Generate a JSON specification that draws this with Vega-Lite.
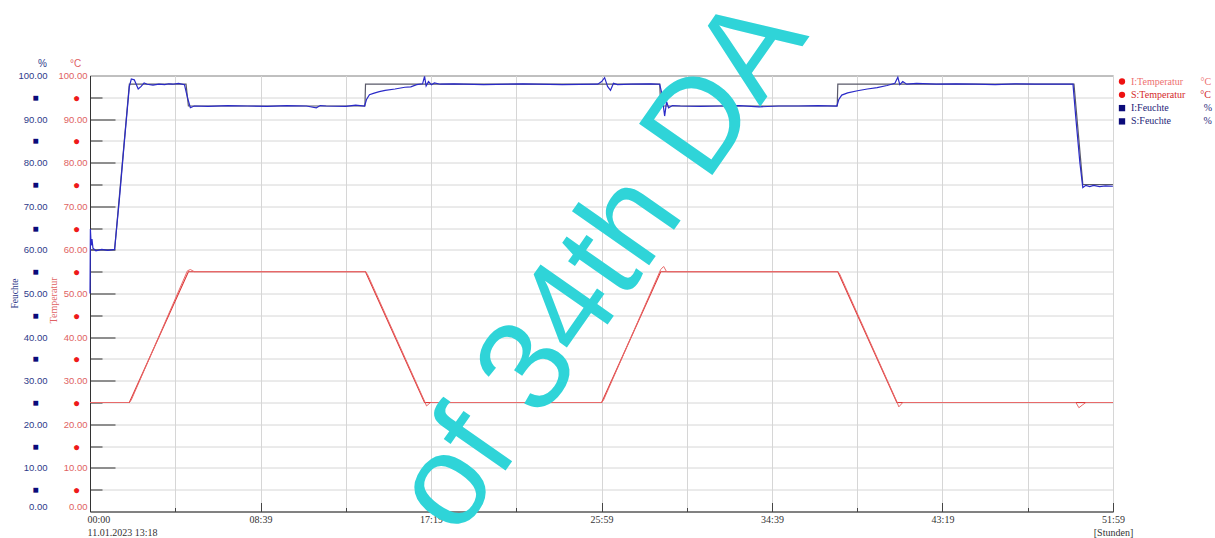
{
  "$schema": "https://vega.github.io/schema/vega-lite/v6.json",
  "width": 1023,
  "height": 436,
  "autosize": "none",
  "padding": {"left": 90, "top": 75.5, "right": 102, "bottom": 26.5},
  "background": "white",
  "config": {"view": {"stroke": "#555555", "strokeWidth": 1}},
  "datasets": {
    "series": [
      {"s": "S:Temperatur", "t": 0, "v": 25}, {"s": "S:Temperatur", "t": 2, "v": 25}, {"s": "S:Temperatur", "t": 5, "v": 55}, {"s": "S:Temperatur", "t": 14, "v": 55}, {"s": "S:Temperatur", "t": 17, "v": 25}, {"s": "S:Temperatur", "t": 26, "v": 25}, {"s": "S:Temperatur", "t": 29, "v": 55}, {"s": "S:Temperatur", "t": 38, "v": 55}, {"s": "S:Temperatur", "t": 41, "v": 25}, {"s": "S:Temperatur", "t": 51.98, "v": 25},
      {"s": "I:Temperatur", "t": 0, "v": 25}, {"s": "I:Temperatur", "t": 2.0, "v": 25}, {"s": "I:Temperatur", "t": 2.1, "v": 25.6}, {"s": "I:Temperatur", "t": 4.95, "v": 55.2}, {"s": "I:Temperatur", "t": 5.1, "v": 55.5}, {"s": "I:Temperatur", "t": 5.3, "v": 55}, {"s": "I:Temperatur", "t": 14, "v": 55}, {"s": "I:Temperatur", "t": 14.1, "v": 54.4}, {"s": "I:Temperatur", "t": 17.0, "v": 25.3}, {"s": "I:Temperatur", "t": 17.1, "v": 24.2}, {"s": "I:Temperatur", "t": 17.3, "v": 25}, {"s": "I:Temperatur", "t": 26, "v": 25}, {"s": "I:Temperatur", "t": 26.1, "v": 25.6}, {"s": "I:Temperatur", "t": 29.0, "v": 55.5}, {"s": "I:Temperatur", "t": 29.15, "v": 56.2}, {"s": "I:Temperatur", "t": 29.3, "v": 55}, {"s": "I:Temperatur", "t": 38, "v": 55}, {"s": "I:Temperatur", "t": 38.1, "v": 54.4}, {"s": "I:Temperatur", "t": 41.0, "v": 25.2}, {"s": "I:Temperatur", "t": 41.1, "v": 24}, {"s": "I:Temperatur", "t": 41.3, "v": 25}, {"s": "I:Temperatur", "t": 50.1, "v": 25}, {"s": "I:Temperatur", "t": 50.25, "v": 23.8}, {"s": "I:Temperatur", "t": 50.45, "v": 24.5}, {"s": "I:Temperatur", "t": 50.6, "v": 25}, {"s": "I:Temperatur", "t": 51.98, "v": 25},
      {"s": "S:Feuchte", "t": 0, "v": 60}, {"s": "S:Feuchte", "t": 1.25, "v": 60}, {"s": "S:Feuchte", "t": 2.0, "v": 98}, {"s": "S:Feuchte", "t": 4.88, "v": 98}, {"s": "S:Feuchte", "t": 5.0, "v": 93}, {"s": "S:Feuchte", "t": 13.97, "v": 93}, {"s": "S:Feuchte", "t": 14.0, "v": 98}, {"s": "S:Feuchte", "t": 28.95, "v": 98}, {"s": "S:Feuchte", "t": 29.0, "v": 93}, {"s": "S:Feuchte", "t": 37.97, "v": 93}, {"s": "S:Feuchte", "t": 38.0, "v": 98}, {"s": "S:Feuchte", "t": 50.0, "v": 98}, {"s": "S:Feuchte", "t": 50.45, "v": 75}, {"s": "S:Feuchte", "t": 51.98, "v": 75},
      {"s": "I:Feuchte", "t": 0, "v": 50}, {"s": "I:Feuchte", "t": 0.02, "v": 64.8}, {"s": "I:Feuchte", "t": 0.06, "v": 61}, {"s": "I:Feuchte", "t": 0.1, "v": 62.5}, {"s": "I:Feuchte", "t": 0.15, "v": 60.4}, {"s": "I:Feuchte", "t": 0.3, "v": 59.8}, {"s": "I:Feuchte", "t": 0.6, "v": 60.1}, {"s": "I:Feuchte", "t": 0.9, "v": 59.9}, {"s": "I:Feuchte", "t": 1.25, "v": 60.1},
      {"s": "I:Feuchte", "t": 1.5, "v": 72}, {"s": "I:Feuchte", "t": 1.75, "v": 85}, {"s": "I:Feuchte", "t": 2.0, "v": 97.5}, {"s": "I:Feuchte", "t": 2.1, "v": 99.2}, {"s": "I:Feuchte", "t": 2.25, "v": 99}, {"s": "I:Feuchte", "t": 2.45, "v": 96.9}, {"s": "I:Feuchte", "t": 2.6, "v": 97.5}, {"s": "I:Feuchte", "t": 2.75, "v": 98.3}, {"s": "I:Feuchte", "t": 2.9, "v": 98}, {"s": "I:Feuchte", "t": 3.2, "v": 97.8}, {"s": "I:Feuchte", "t": 3.5, "v": 98}, {"s": "I:Feuchte", "t": 3.8, "v": 97.9}, {"s": "I:Feuchte", "t": 4.0, "v": 98.1}, {"s": "I:Feuchte", "t": 4.2, "v": 98}, {"s": "I:Feuchte", "t": 4.5, "v": 98.2}, {"s": "I:Feuchte", "t": 4.8, "v": 97.9},
      {"s": "I:Feuchte", "t": 4.95, "v": 95}, {"s": "I:Feuchte", "t": 5.1, "v": 92.6}, {"s": "I:Feuchte", "t": 5.3, "v": 93}, {"s": "I:Feuchte", "t": 6, "v": 92.9}, {"s": "I:Feuchte", "t": 7, "v": 93.1}, {"s": "I:Feuchte", "t": 8, "v": 93}, {"s": "I:Feuchte", "t": 9, "v": 92.9}, {"s": "I:Feuchte", "t": 10, "v": 93.1}, {"s": "I:Feuchte", "t": 11, "v": 93}, {"s": "I:Feuchte", "t": 11.5, "v": 92.6}, {"s": "I:Feuchte", "t": 11.7, "v": 93.1}, {"s": "I:Feuchte", "t": 12, "v": 93}, {"s": "I:Feuchte", "t": 13, "v": 92.9}, {"s": "I:Feuchte", "t": 13.5, "v": 93.2}, {"s": "I:Feuchte", "t": 13.95, "v": 93},
      {"s": "I:Feuchte", "t": 14.05, "v": 94.5}, {"s": "I:Feuchte", "t": 14.2, "v": 95.6}, {"s": "I:Feuchte", "t": 14.4, "v": 95.9}, {"s": "I:Feuchte", "t": 14.7, "v": 96.3}, {"s": "I:Feuchte", "t": 15, "v": 96.6}, {"s": "I:Feuchte", "t": 15.5, "v": 96.9}, {"s": "I:Feuchte", "t": 16, "v": 97.3}, {"s": "I:Feuchte", "t": 16.3, "v": 97.4}, {"s": "I:Feuchte", "t": 16.6, "v": 97.9}, {"s": "I:Feuchte", "t": 16.9, "v": 98.1}, {"s": "I:Feuchte", "t": 17.0, "v": 99.8}, {"s": "I:Feuchte", "t": 17.08, "v": 97.6}, {"s": "I:Feuchte", "t": 17.2, "v": 98.6}, {"s": "I:Feuchte", "t": 17.35, "v": 97.9}, {"s": "I:Feuchte", "t": 17.5, "v": 98.3}, {"s": "I:Feuchte", "t": 17.8, "v": 98},
      {"s": "I:Feuchte", "t": 18.5, "v": 98.1}, {"s": "I:Feuchte", "t": 20, "v": 97.9}, {"s": "I:Feuchte", "t": 22, "v": 98.1}, {"s": "I:Feuchte", "t": 24, "v": 97.9}, {"s": "I:Feuchte", "t": 25.8, "v": 98}, {"s": "I:Feuchte", "t": 26.0, "v": 98.6}, {"s": "I:Feuchte", "t": 26.15, "v": 99.5}, {"s": "I:Feuchte", "t": 26.3, "v": 97.5}, {"s": "I:Feuchte", "t": 26.45, "v": 96.6}, {"s": "I:Feuchte", "t": 26.6, "v": 98.2}, {"s": "I:Feuchte", "t": 26.8, "v": 97.9}, {"s": "I:Feuchte", "t": 27.5, "v": 98}, {"s": "I:Feuchte", "t": 28.5, "v": 98.1}, {"s": "I:Feuchte", "t": 28.95, "v": 98},
      {"s": "I:Feuchte", "t": 29.05, "v": 96}, {"s": "I:Feuchte", "t": 29.2, "v": 90.7}, {"s": "I:Feuchte", "t": 29.3, "v": 94}, {"s": "I:Feuchte", "t": 29.4, "v": 92.6}, {"s": "I:Feuchte", "t": 29.6, "v": 93.1}, {"s": "I:Feuchte", "t": 30, "v": 93}, {"s": "I:Feuchte", "t": 31, "v": 92.9}, {"s": "I:Feuchte", "t": 32, "v": 93}, {"s": "I:Feuchte", "t": 33, "v": 93.1}, {"s": "I:Feuchte", "t": 34, "v": 92.8}, {"s": "I:Feuchte", "t": 35, "v": 93}, {"s": "I:Feuchte", "t": 36, "v": 93}, {"s": "I:Feuchte", "t": 37, "v": 93.1}, {"s": "I:Feuchte", "t": 37.95, "v": 93},
      {"s": "I:Feuchte", "t": 38.05, "v": 94.5}, {"s": "I:Feuchte", "t": 38.2, "v": 95.5}, {"s": "I:Feuchte", "t": 38.5, "v": 96}, {"s": "I:Feuchte", "t": 39, "v": 96.5}, {"s": "I:Feuchte", "t": 39.5, "v": 96.9}, {"s": "I:Feuchte", "t": 40, "v": 97.2}, {"s": "I:Feuchte", "t": 40.5, "v": 97.7}, {"s": "I:Feuchte", "t": 40.9, "v": 98.2}, {"s": "I:Feuchte", "t": 41.05, "v": 99.6}, {"s": "I:Feuchte", "t": 41.15, "v": 97.9}, {"s": "I:Feuchte", "t": 41.3, "v": 98.6}, {"s": "I:Feuchte", "t": 41.5, "v": 98}, {"s": "I:Feuchte", "t": 42, "v": 98.2}, {"s": "I:Feuchte", "t": 43, "v": 98}, {"s": "I:Feuchte", "t": 44, "v": 98.1}, {"s": "I:Feuchte", "t": 45, "v": 98}, {"s": "I:Feuchte", "t": 46, "v": 97.9}, {"s": "I:Feuchte", "t": 47, "v": 98.1}, {"s": "I:Feuchte", "t": 48, "v": 98}, {"s": "I:Feuchte", "t": 49, "v": 98}, {"s": "I:Feuchte", "t": 49.95, "v": 98},
      {"s": "I:Feuchte", "t": 50.1, "v": 90}, {"s": "I:Feuchte", "t": 50.3, "v": 80}, {"s": "I:Feuchte", "t": 50.45, "v": 74.3}, {"s": "I:Feuchte", "t": 50.6, "v": 74.8}, {"s": "I:Feuchte", "t": 50.8, "v": 74.5}, {"s": "I:Feuchte", "t": 51, "v": 74.8}, {"s": "I:Feuchte", "t": 51.3, "v": 74.5}, {"s": "I:Feuchte", "t": 51.6, "v": 74.7}, {"s": "I:Feuchte", "t": 51.98, "v": 74.6}
    ],
    "stamp": [{"t": 26.0, "v": 56.5, "label": "of 34th DA"}]
  },
  "data": {"name": "series"},
  "encoding": {
    "x": {
      "field": "t",
      "type": "quantitative",
      "scale": {"domain": [0, 51.983333], "nice": false, "zero": false},
      "axis": {
        "title": null,
        "values": [0, 4.331944, 8.663889, 12.995833, 17.327778, 21.659722, 25.991667, 30.323611, 34.655556, 38.9875, 43.319444, 47.651389, 51.983333],
        "labelExpr": "datum.value < 0.01 ? ['00:00', '11.01.2023 13:18'] : datum.value > 51.9 ? ['51:59', '[Stunden]'] : (round(datum.value / 4.331944) % 2 === 1 ? '' : (floor(datum.value) < 10 ? '0' : '') + floor(datum.value) + ':' + floor((datum.value - floor(datum.value)) * 60 + 0.001))",
        "labelOverlap": false,
        "labelFlush": false,
        "labelFont": "Liberation Serif",
        "labelFontSize": 10,
        "labelColor": "#333333",
        "labelBaseline": "top",
        "labelLineHeight": 12.5,
        "labelPadding": 12,
        "labelAlign": {"condition": {"test": "datum.value < 0.01", "value": "left"}, "value": "center"},
        "labelOffset": {"condition": {"test": "datum.value < 0.01", "value": -3}, "value": 0},
        "grid": true,
        "gridColor": "#d6d6d6",
        "gridWidth": 1,
        "domainColor": "#444444",
        "ticks": true,
        "tickColor": "#444444",
        "tickSize": {"condition": {"test": "round(datum.value / 4.331944) % 2 === 0", "value": -9}, "value": -4}
      }
    }
  },
  "layer": [
    {
      "transform": [{"filter": "datum.s === 'S:Temperatur'"}],
      "mark": {"type": "line", "strokeWidth": 1.1},
      "encoding": {
        "y": {
          "field": "v", "type": "quantitative",
          "scale": {"domain": [0, 100], "nice": false},
          "axis": {
            "orient": "left", "offset": 0,
            "values": [0, 5, 10, 15, 20, 25, 30, 35, 40, 45, 50, 55, 60, 65, 70, 75, 80, 85, 90, 95, 100],
            "labelExpr": "datum.value % 10 === 0 ? format(datum.value, '.2f') : '●'",
            "labelOverlap": false,
            "labelFont": "Liberation Sans",
            "labelFontSize": {"condition": {"test": "datum.value % 10 === 0", "value": 9.5}, "value": 12},
            "labelColor": {"condition": {"test": "datum.value % 10 === 0", "value": "#e06262"}, "value": "#ee1a1a"},
            "labelAlign": {"condition": {"test": "datum.value % 10 === 0", "value": "right"}, "value": "center"},
            "labelPadding": {"condition": {"test": "datum.value % 10 === 0", "value": 3}, "value": 14},
            "labelOffset": {"condition": {"test": "datum.value === 0", "value": -5}, "value": 0},
            "labelBaseline": "middle",
            "ticks": false,
            "domain": true,
            "domainColor": "#333333",
            "grid": true,
            "gridColor": "#d6d6d6",
            "title": "°C",
            "titleAngle": 0,
            "titleX": -15,
            "titleY": -12.5,
            "titleAlign": "center",
            "titleBaseline": "middle",
            "titleColor": "#e06262",
            "titleFont": "Liberation Sans",
            "titleFontSize": 10,
            "titleFontWeight": "normal"
          }
        },
        "color": {
          "field": "s", "type": "nominal",
          "scale": {"domain": ["I:Temperatur", "S:Temperatur", "I:Feuchte", "S:Feuchte"], "range": ["#e86a6a", "#dd3535", "#2a2ac8", "#5a5a6a"]},
          "legend": {
            "orient": "none",
            "legendX": 1027,
            "legendY": 1,
            "title": null,
            "padding": 0,
            "symbolType": "circle",
            "symbolSize": 40,
            "symbolStrokeWidth": 0,
            "labelFont": "Liberation Serif",
            "labelFontSize": 10,
            "labelOffset": 4,
            "rowPadding": 3.3,
            "labelLimit": 200,
            "labelExpr": "datum.value === 'I:Temperatur' ? 'I:Temperatur\u00a0\u00a0\u00a0\u00a0\u00a0\u00a0\u00a0°C' : datum.value === 'S:Temperatur' ? 'S:Temperatur\u00a0\u00a0\u00a0\u00a0\u00a0\u00a0°C' : datum.value === 'I:Feuchte' ? 'I:Feuchte\u00a0\u00a0\u00a0\u00a0\u00a0\u00a0\u00a0\u00a0\u00a0\u00a0\u00a0\u00a0\u00a0\u00a0%' : 'S:Feuchte\u00a0\u00a0\u00a0\u00a0\u00a0\u00a0\u00a0\u00a0\u00a0\u00a0\u00a0\u00a0\u00a0%'",
            "encode": {
              "symbols": {"update": {
                "shape": {"signal": "indexof(datum.value, 'Feuchte') >= 0 ? 'square' : 'circle'"},
                "fill": {"signal": "indexof(datum.value, 'Feuchte') >= 0 ? '#0b0b7a' : '#ee1111'"},
                "stroke": {"value": "transparent"},
                "opacity": {"value": 1}
              }},
              "labels": {"update": {
                "fill": {"signal": "datum.value === 'I:Temperatur' ? '#ee7070' : datum.value === 'S:Temperatur' ? '#d42a2a' : '#1e1e78'"}
              }}
            }
          }
        }
      }
    },
    {
      "transform": [{"filter": "datum.s === 'I:Temperatur'"}],
      "mark": {"type": "line", "strokeWidth": 1},
      "encoding": {
        "y": {
          "field": "v", "type": "quantitative",
          "scale": {"domain": [0, 100], "nice": false},
          "axis": {
            "orient": "left", "offset": 0,
            "values": [10, 20, 30, 40, 50, 60, 70, 80, 90],
            "labels": false, "domain": false, "grid": false,
            "ticks": true, "tickSize": -25, "tickColor": "#333333", "tickWidth": 1,
            "title": "Temperatur",
            "titleAngle": 270,
            "titleX": -37,
            "titleY": 224.5,
            "titleAlign": "center",
            "titleBaseline": "middle",
            "titleColor": "#e06262",
            "titleFont": "Liberation Serif",
            "titleFontSize": 10,
            "titleFontWeight": "normal"
          }
        },
        "color": {"field": "s", "type": "nominal", "scale": {"domain": ["I:Temperatur", "S:Temperatur", "I:Feuchte", "S:Feuchte"], "range": ["#e86a6a", "#dd3535", "#2a2ac8", "#5a5a6a"]}}
      }
    },
    {
      "transform": [{"filter": "datum.s === 'S:Feuchte'"}],
      "mark": {"type": "line", "strokeWidth": 1.2},
      "encoding": {
        "y": {
          "field": "v", "type": "quantitative",
          "scale": {"domain": [0, 100], "nice": false},
          "axis": {
            "orient": "left", "offset": 39,
            "values": [0, 5, 10, 15, 20, 25, 30, 35, 40, 45, 50, 55, 60, 65, 70, 75, 80, 85, 90, 95, 100],
            "labelExpr": "datum.value % 10 === 0 ? format(datum.value, '.2f') : '■'",
            "labelOverlap": false,
            "labelFont": "Liberation Sans",
            "labelFontSize": {"condition": {"test": "datum.value % 10 === 0", "value": 9.5}, "value": 10},
            "labelColor": {"condition": {"test": "datum.value % 10 === 0", "value": "#2e3a8a"}, "value": "#0b0b7a"},
            "labelAlign": {"condition": {"test": "datum.value % 10 === 0", "value": "right"}, "value": "center"},
            "labelPadding": {"condition": {"test": "datum.value % 10 === 0", "value": 4}, "value": 16},
            "labelOffset": {"condition": {"test": "datum.value === 0", "value": -5}, "value": 0},
            "labelBaseline": "middle",
            "ticks": false, "domain": false, "grid": false,
            "title": "%",
            "titleAngle": 0,
            "titleX": -9,
            "titleY": -12.5,
            "titleAlign": "center",
            "titleBaseline": "middle",
            "titleColor": "#2e3a8a",
            "titleFont": "Liberation Sans",
            "titleFontSize": 10,
            "titleFontWeight": "normal"
          }
        },
        "color": {"field": "s", "type": "nominal", "scale": {"domain": ["I:Temperatur", "S:Temperatur", "I:Feuchte", "S:Feuchte"], "range": ["#e86a6a", "#dd3535", "#2a2ac8", "#5a5a6a"]}}
      }
    },
    {
      "transform": [{"filter": "datum.s === 'I:Feuchte'"}],
      "mark": {"type": "line", "strokeWidth": 1.2},
      "encoding": {
        "y": {
          "field": "v", "type": "quantitative",
          "scale": {"domain": [0, 100], "nice": false},
          "axis": {
            "orient": "left", "offset": 0,
            "values": [5, 15, 25, 35, 45, 55, 65, 75, 85, 95],
            "labels": false, "domain": false, "grid": false,
            "ticks": true, "tickSize": -12, "tickColor": "#333333", "tickWidth": 1,
            "title": "Feuchte",
            "titleAngle": 270,
            "titleX": -76,
            "titleY": 217.5,
            "titleAlign": "center",
            "titleBaseline": "middle",
            "titleColor": "#2e3a8a",
            "titleFont": "Liberation Serif",
            "titleFontSize": 9.5,
            "titleFontWeight": "normal"
          }
        },
        "color": {"field": "s", "type": "nominal", "scale": {"domain": ["I:Temperatur", "S:Temperatur", "I:Feuchte", "S:Feuchte"], "range": ["#e86a6a", "#dd3535", "#2a2ac8", "#5a5a6a"]}}
      }
    },
    {
      "data": {"name": "stamp"},
      "mark": {"type": "text", "angle": 305, "align": "center", "baseline": "middle", "font": "Liberation Sans", "fontSize": 130, "color": "#2fd4d8"},
      "encoding": {
        "y": {"field": "v", "type": "quantitative", "scale": {"domain": [0, 100], "nice": false}, "axis": null},
        "text": {"field": "label"}
      }
    }
  ],
  "resolve": {"scale": {"y": "independent"}, "axis": {"y": "independent"}}
}
